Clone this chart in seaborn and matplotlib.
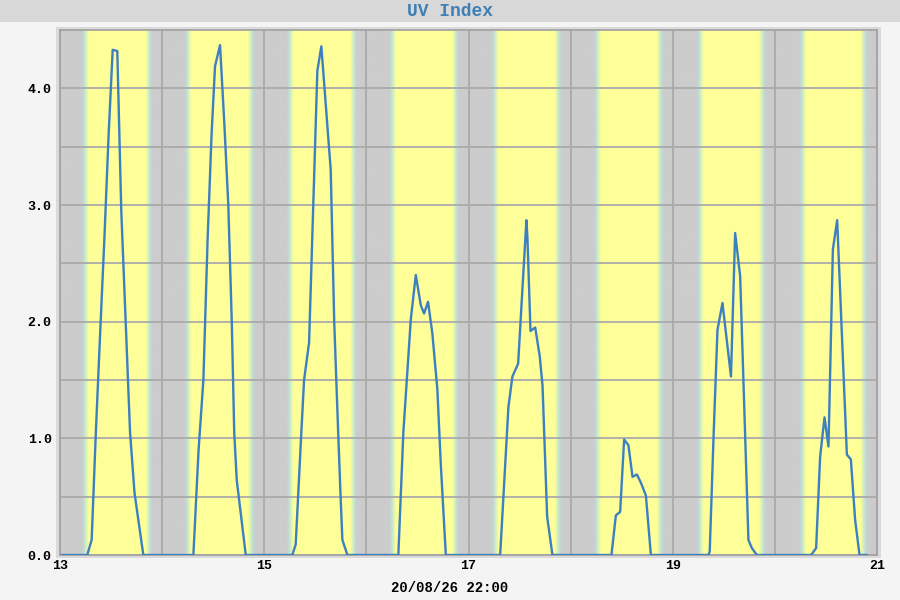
import numpy as np
import matplotlib
matplotlib.use("Agg")
import matplotlib.pyplot as plt
from matplotlib.colors import LinearSegmentedColormap
from matplotlib.patches import Rectangle
import seaborn as sns

# UV index readings (time in days of the month, value)
uv_time = [13.020, 13.267, 13.310, 13.351, 13.393, 13.434, 13.476, 13.516, 13.561, 13.600,
           13.643, 13.686, 13.730, 13.816,
           14.306, 14.357, 14.404, 14.445, 14.484, 14.518, 14.567, 14.609, 14.648, 14.682,
           14.706, 14.731, 14.819,
           15.275, 15.308, 15.363, 15.390, 15.439, 15.520, 15.559, 15.651, 15.685, 15.724,
           15.745, 15.765, 15.814,
           16.313, 16.362, 16.435, 16.484, 16.533, 16.565, 16.604, 16.646, 16.695, 16.728,
           16.778,
           17.310, 17.391, 17.430, 17.486, 17.567, 17.577, 17.607, 17.653, 17.698, 17.725,
           17.770, 17.822,
           18.400, 18.443, 18.485, 18.524, 18.566, 18.606, 18.649, 18.688, 18.737, 18.786,
           19.350, 19.362, 19.399, 19.438, 19.487, 19.570, 19.611, 19.660, 19.741, 19.774,
           19.824,
           20.355, 20.404, 20.443, 20.486, 20.525, 20.568, 20.610, 20.705, 20.744, 20.786,
           20.829, 20.901]
uv_value = [0.00, 0.00, 0.13, 1.05, 1.90, 2.70, 3.60, 4.33, 4.32, 2.95,
            2.00, 1.05, 0.53, 0.00,
            0.00, 0.90, 1.50, 2.70, 3.60, 4.19, 4.37, 3.70, 3.00, 2.00,
            1.05, 0.64, 0.00,
            0.00, 0.09, 1.05, 1.50, 1.82, 4.15, 4.36, 3.30, 2.00, 1.05,
            0.56, 0.13, 0.00,
            0.00, 1.05, 2.02, 2.40, 2.14, 2.07, 2.17, 1.90, 1.42, 0.79,
            0.00,
            0.00, 1.27, 1.53, 1.64, 2.87, 2.72, 1.92, 1.95, 1.70, 1.45,
            0.33, 0.00,
            0.00, 0.34, 0.37, 0.99, 0.94, 0.67, 0.69, 0.62, 0.51, 0.00,
            0.00, 0.03, 1.00, 1.93, 2.16, 1.53, 2.76, 2.39, 0.13, 0.06,
            0.00,
            0.00, 0.06, 0.84, 1.18, 0.93, 2.62, 2.87, 0.86, 0.82, 0.30,
            0.00, 0.00]

# daylight bands (fraction of each day)
days = [13, 14, 15, 16, 17, 18, 19, 20]
sunrise = [0.245, 0.250, 0.252, 0.255, 0.259, 0.262, 0.268, 0.272]
sunset = [0.874, 0.876, 0.878, 0.876, 0.880, 0.880, 0.882, 0.876]

x_ticks = [13, 14, 15, 16, 17, 18, 19, 20, 21]
x_labels = ['13', '', '15', '', '17', '', '19', '', '21']
y_ticks = [0.0, 0.5, 1.0, 1.5, 2.0, 2.5, 3.0, 3.5, 4.0]
y_labels = ['0.0', '', '1.0', '', '2.0', '', '3.0', '', '4.0']

sns.set_theme(style='white')
plt.rcParams['font.family'] = ['Liberation Mono', 'DejaVu Sans Mono']
plt.rcParams['font.weight'] = 'bold'

fig = plt.figure(figsize=(9, 6), dpi=100, facecolor='#f4f4f4')
# title bar and plot frame
fig.patches.append(Rectangle((0, 578 / 600), 1, 22 / 600, transform=fig.transFigure,
                             facecolor='#d8d8d8', edgecolor='none', zorder=-2))
fig.patches.append(Rectangle((56 / 900, 42 / 600), 825 / 900, 531 / 600, transform=fig.transFigure,
                             facecolor='#dadada', edgecolor='none', zorder=-2))

ax = fig.add_axes([60 / 900, 45 / 600, 817 / 900, 525 / 600])
ax.set_zorder(1)

# day / night background with soft edges
t = np.linspace(13, 21, 3000)
light = np.zeros_like(t)
w = 0.07
for d, sr, ss in zip(days, sunrise, sunset):
    frac = t - d
    up = np.clip((frac - sr) / w + 0.5, 0, 1)
    down = np.clip((ss - frac) / w + 0.5, 0, 1)
    light = np.maximum(light, up * down)
cmap = LinearSegmentedColormap.from_list('daynight', ['#cccccc', '#c0dcd8', '#d6f2b8', '#ffff99'])
ax.imshow(light[None, :], extent=(13, 21, 0, 4.5), aspect='auto', cmap=cmap,
          interpolation='bilinear', zorder=0)

sns.lineplot(x=uv_time, y=uv_value, ax=ax, color='#3d7fc1', linewidth=1.7,
             sort=False, estimator=None, zorder=3)

ax.set_xlim(13, 21)
ax.set_ylim(0, 4.5)
ax.set_xticks(x_ticks)
ax.set_xticklabels(x_labels)
ax.set_yticks(y_ticks)
ax.set_yticklabels(y_labels)
ax.grid(True, color='#aaaaaa', linewidth=1.3)
for line in ax.get_xgridlines() + ax.get_ygridlines():
    line.set_zorder(1)
ax.tick_params(axis='x', length=0, pad=3.5, labelsize=9.5, labelcolor='black')
ax.tick_params(axis='y', length=0, pad=6, labelsize=9.5, labelcolor='black')
for s in ax.spines.values():
    s.set_color('#a0a0a0')
    s.set_linewidth(1.2)

fig.text(0.5, 1 - 11 / 600, 'UV Index', ha='center', va='center', color='#3f7fb5',
         fontsize=13, fontweight='bold')
fig.text(0.5, 1 - 588 / 600, '20/08/26 22:00', ha='center', va='center', color='black',
         fontsize=10, fontweight='bold')

fig.savefig('out.png', dpi=100, facecolor=fig.get_facecolor())
